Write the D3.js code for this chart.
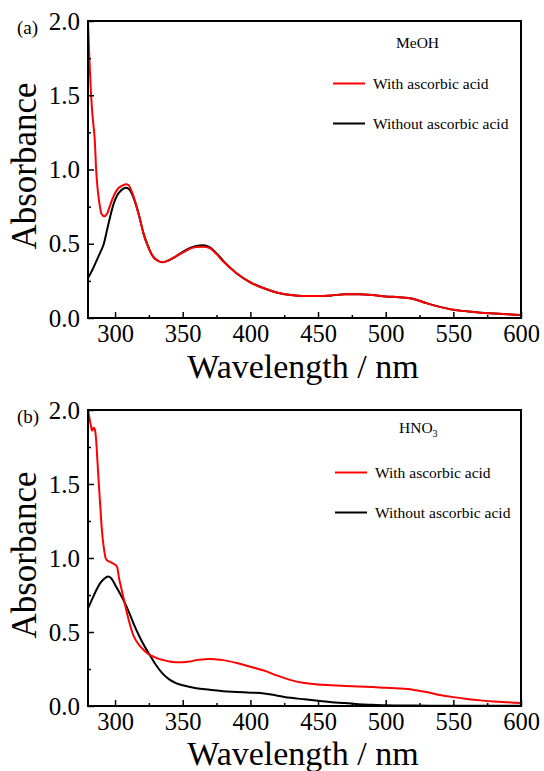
<!DOCTYPE html>
<html><head><meta charset="utf-8">
<script src="https://cdn.jsdelivr.net/npm/d3@7"></script>
<style>body{margin:0;background:#fff}svg{display:block}</style>
</head><body>
<svg id="c" width="544" height="771"></svg>
<script>
const FONT = "'Liberation Serif','Times New Roman',Tinos,'DejaVu Serif','Noto Serif',serif";
const xTicks = [300, 350, 400, 450, 500, 550, 600];
const yTicks = [0.0, 0.5, 1.0, 1.5, 2.0];

// Panel (a) MeOH
const aWithW = [280,281,282,283,284,285,286,287,288,289,290,292,294,296,298,300,302,304,306,308,310,312,315,318,321,324,327,330,335,340,345,350,355,360,365,370,375,380,390,400,410,420,430,440,450,460,470,480,490,500,510,520,530,540,550,560,570,580,590,600];
const aWithA = [2.0,1.75,1.55,1.4,1.3,1.2,1.0,0.88,0.8,0.74,0.70,0.685,0.70,0.75,0.80,0.84,0.87,0.885,0.895,0.90,0.895,0.86,0.78,0.68,0.57,0.49,0.43,0.395,0.375,0.39,0.415,0.44,0.465,0.478,0.48,0.47,0.43,0.38,0.30,0.24,0.20,0.17,0.155,0.148,0.148,0.152,0.16,0.16,0.155,0.145,0.14,0.13,0.10,0.075,0.055,0.045,0.035,0.03,0.025,0.02];
const aWithoutW = [280,283,286.5,289,291.7,294,296.6,299,301.5,304,308,310,312,315,318,321,324,327,330,335,340,345,350,355,360,365,370,375,380,390,400,410,420,430,440,450,460,470,480,490,500,510,520,530,540,550,560,570,580,590,600];
const aWithoutA = [0.27,0.32,0.39,0.44,0.50,0.59,0.69,0.77,0.825,0.855,0.877,0.87,0.845,0.775,0.68,0.57,0.49,0.43,0.395,0.375,0.39,0.415,0.445,0.47,0.485,0.49,0.475,0.435,0.385,0.30,0.24,0.20,0.17,0.155,0.148,0.148,0.152,0.16,0.16,0.155,0.145,0.14,0.13,0.10,0.075,0.055,0.045,0.035,0.03,0.025,0.02];

// Panel (b) HNO3
const bWithW = [280,281,282,283,284,285,286,287,288,289,290,291,292,293,294,296,298,300,301.5,303,305,307,309,311,313,315,318,321,324,328,332,336,340,345,350,355,360,365,370,375,380,390,400,410,420,430,440,450,460,470,480,490,500,510,520,530,540,550,560,570,580,590,600];
const bWithA = [2.0,1.95,1.9,1.86,1.88,1.87,1.8,1.65,1.5,1.36,1.22,1.12,1.05,1.0,0.985,0.975,0.965,0.955,0.94,0.86,0.78,0.70,0.62,0.55,0.49,0.45,0.41,0.38,0.355,0.335,0.32,0.31,0.30,0.295,0.295,0.30,0.31,0.315,0.318,0.315,0.31,0.29,0.265,0.24,0.205,0.175,0.155,0.145,0.14,0.135,0.132,0.128,0.123,0.118,0.11,0.095,0.075,0.06,0.048,0.038,0.03,0.025,0.02];
const bWithoutW = [280,283,286,289,292,295,297,300,303,306,310,314,318,322,326,330,335,340,345,350,360,370,380,390,400,410,420,430,440,450,460,470,480,490,500,520,550,600];
const bWithoutA = [0.66,0.72,0.78,0.83,0.86,0.875,0.865,0.82,0.77,0.72,0.64,0.55,0.47,0.40,0.34,0.28,0.22,0.18,0.155,0.14,0.12,0.11,0.10,0.095,0.09,0.085,0.07,0.055,0.045,0.035,0.025,0.02,0.012,0.008,0.005,0.003,0.002,0.001];

const svg = d3.select("#c");
const X0 = 88, X1 = 521;

function panel(cfg){
  const x = d3.scaleLinear().domain([280,600]).range([X0,X1]);
  const y = d3.scaleLinear().domain([0,2]).range([cfg.bottom, cfg.top]);
  const g = svg.append("g");
  const clipId = "clip"+cfg.label;
  g.append("clipPath").attr("id",clipId).append("rect")
    .attr("x",X0).attr("y",cfg.top).attr("width",X1-X0).attr("height",cfg.bottom-cfg.top);
  const line = d3.line().x(d=>x(d[0])).y(d=>y(d[1])).curve(d3.curveMonotoneX);
  const series = [
    {w:cfg.withoutW, a:cfg.withoutA, c:"#000"},
    {w:cfg.withW, a:cfg.withA, c:"#ff0000"}
  ];
  series.forEach(s=>{
    g.append("path").datum(s.w.map((w,i)=>[w,s.a[i]]))
      .attr("d",line).attr("fill","none").attr("stroke",s.c).attr("stroke-width",2)
      .attr("clip-path",`url(#${clipId})`);
  });
  // frame
  g.append("rect").attr("x",X0).attr("y",cfg.top).attr("width",X1-X0).attr("height",cfg.bottom-cfg.top)
    .attr("fill","none").attr("stroke","#000").attr("stroke-width",2);
  // x axis
  const xa = g.append("g").attr("transform",`translate(0,${cfg.bottom})`)
    .call(d3.axisBottom(x).tickValues(xTicks).tickSize(-6).tickPadding(7).tickFormat(d3.format("d")));
  xa.select(".domain").remove();
  xa.selectAll("line").attr("stroke-width",1.5);
  xa.selectAll("text").attr("font-size",24.5).style("font-family",FONT).attr("dy","0.71em");
  const xm = g.append("g").attr("transform",`translate(0,${cfg.bottom})`)
    .call(d3.axisBottom(x).tickValues([325,375,425,475,525,575]).tickSize(-3).tickFormat(""));
  xm.select(".domain").remove(); xm.selectAll("line").attr("stroke-width",1.5);
  // y axis
  const ya = g.append("g").attr("transform",`translate(${X0},0)`)
    .call(d3.axisLeft(y).tickValues(yTicks).tickSize(-6).tickPadding(8).tickFormat(d3.format(".1f")));
  ya.select(".domain").remove();
  ya.selectAll("line").attr("stroke-width",1.5);
  ya.selectAll("text").attr("font-size",25).style("font-family",FONT);
  const ym = g.append("g").attr("transform",`translate(${X0},0)`)
    .call(d3.axisLeft(y).tickValues([0.25,0.75,1.25,1.75]).tickSize(-3).tickFormat(""));
  ym.select(".domain").remove(); ym.selectAll("line").attr("stroke-width",1.5);
  // titles
  g.append("text").attr("x",303).attr("y",cfg.bottom+cfg.titleDy).attr("text-anchor","middle")
    .attr("font-size",34).style("font-family",FONT).text("Wavelength / nm");
  g.append("text").attr("transform",`translate(36,${cfg.top+145}) rotate(-90)`)
    .attr("text-anchor","middle").attr("font-size",35).style("font-family",FONT).text("Absorbance");
  g.append("text").attr("x",17).attr("y",cfg.top+13).attr("font-size",19).style("font-family",FONT).text(`(${cfg.label})`);
  // legend
  const t = g.append("text").attr("x",cfg.solX).attr("y",cfg.solY).attr("font-size",15.5).style("font-family",FONT);
  cfg.solvent(t);
  const L = [{c:"#ff0000",t:"With ascorbic acid",y:cfg.leg1},{c:"#000",t:"Without ascorbic acid",y:cfg.leg2}];
  L.forEach(l=>{
    g.append("line").attr("x1",cfg.legX).attr("x2",cfg.legX+32).attr("y1",l.y).attr("y2",l.y)
      .attr("stroke",l.c).attr("stroke-width",2);
    g.append("text").attr("x",cfg.legX+40).attr("y",l.y+5.5).attr("font-size",15.5).style("font-family",FONT).text(l.t);
  });
}

panel({label:"a", top:21, bottom:318, titleDy:60, withW:aWithW, withA:aWithA, withoutW:aWithoutW, withoutA:aWithoutA,
  solX:396, solY:48, legX:333, leg1:83.5, leg2:123.5, solvent:t=>t.text("MeOH")});
panel({label:"b", top:410, bottom:706, titleDy:58.5, withW:bWithW, withA:bWithA, withoutW:bWithoutW, withoutA:bWithoutA,
  solX:399, solY:433, legX:335, leg1:472.5, leg2:512.5, solvent:t=>{t.append("tspan").text("HNO");t.append("tspan").attr("font-size",10).attr("dy",4).text("3");}});
</script>
</body></html>
